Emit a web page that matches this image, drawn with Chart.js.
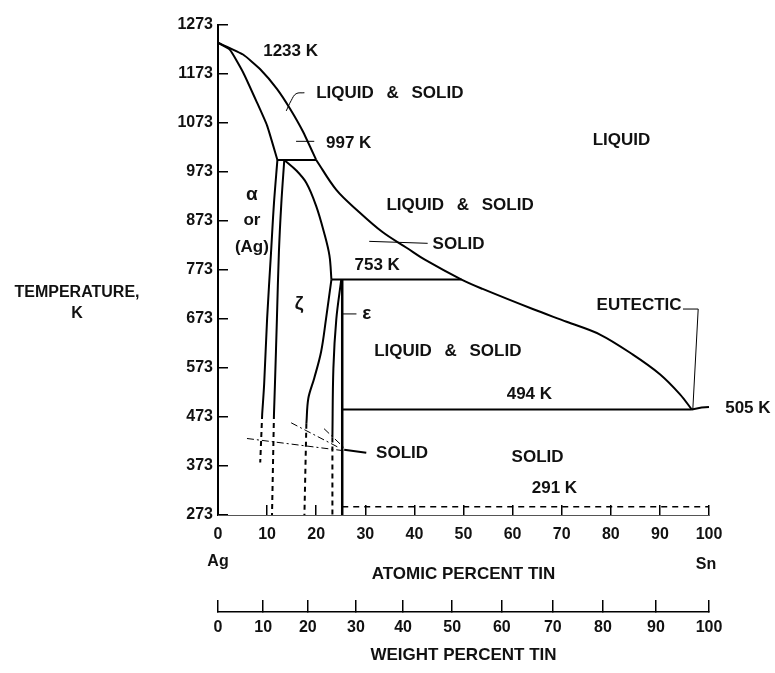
<!DOCTYPE html>
<html>
<head>
<meta charset="utf-8">
<title>Silver - tin phase diagram</title>
<script src="https://cdn.jsdelivr.net/npm/chart.js@4.4.1/dist/chart.umd.min.js"></script>
<style>
  html, body { margin: 0; padding: 0; background: #fff; }
  #wrap { width: 775px; height: 673px; }
</style>
</head>
<body>
<div id="wrap"><canvas id="phaseChart" width="775" height="673"></canvas></div>
<script>
// axis ticks
const tempTicks = [273, 373, 473, 573, 673, 773, 873, 973, 1073, 1173, 1273];
const atomicTicks = [0, 10, 20, 30, 40, 50, 60, 70, 80, 90, 100];
const weightLabels = [0, 10, 20, 30, 40, 50, 60, 70, 80, 90, 100];
// where each weight percent sits on the atomic percent scale
const weightAtAtomic = [0, 9.2, 18.3, 28.1, 37.7, 47.7, 57.8, 68.2, 78.4, 89.2, 100];

// phase boundaries, x = atomic percent tin, T = kelvin
const liquidusTopX = [0, 5.1, 8.6, 12.0, 14.7, 17.3, 20.0];
const liquidusTopT = [1236, 1212, 1182, 1142, 1101, 1055, 997];
const liquidusLowX = [20.0, 24.1, 28.5, 33.5, 38.4, 42.4, 49.6, 53.9, 64.1, 71.0, 77.8, 84.5, 90.0, 94.1, 96.5];
const liquidusLowT = [997, 936, 893, 850, 818, 792, 753, 734, 693, 667, 641, 600, 560, 519, 488];
const tinEndX = [96.5, 98.5, 100];
const tinEndT = [488, 492, 493];

const alphaSolidusX = [0, 2.4, 5.1, 7.9, 10.0, 12.1];
const alphaSolidusT = [1236, 1222, 1176, 1115, 1067, 997];
const peritecticX = [12.1, 20.0];
const peritecticT = [997, 997];

const alphaSolvusX = [12.1, 11.4, 10.8, 10.0, 9.4, 9.0];
const alphaSolvusT = [997, 909, 808, 673, 540, 479];
const alphaSolvusDashX = [9.0, 8.6];
const alphaSolvusDashT = [479, 380];

const zetaLeftX = [13.5, 12.9, 12.4, 12.0, 11.6, 11.4];
const zetaLeftT = [997, 909, 808, 673, 540, 479];
const zetaLeftDashX = [11.4, 11.0];
const zetaLeftDashT = [479, 273];

const zetaTopX = [13.5, 15.9, 18.0, 20.0, 21.6, 22.7, 23.1];
const zetaTopT = [997, 976, 950, 903, 849, 802, 753];
const line753X = [23.1, 49.6];
const line753T = [753, 753];

const zetaRightX = [23.1, 22.0, 21.0, 19.6, 18.4, 18.0];
const zetaRightT = [753, 673, 606, 552, 511, 459];
const zetaRightDashX = [18.0, 17.6];
const zetaRightDashT = [459, 273];

const epsLeftX = [25.1, 24.1, 23.5, 23.3];
const epsLeftT = [753, 673, 572, 431];
const epsLeftDashX = [23.3, 23.3];
const epsLeftDashT = [431, 273];
const epsRightX = [25.3, 25.3];
const epsRightT = [753, 273];

const eutecticLineX = [25.3, 96.5];
const eutecticLineT = [488, 488];
const roomTempX = [25.3, 100];
const roomTempT = [290, 290];

// leader lines for the labels
const leaderTopX = [17.6, 15.9, 14.9, 13.9];
const leaderTopT = [1134, 1132, 1118, 1097];
const tick997X = [15.9, 19.6];
const tick997T = [1035, 1035];
const leaderSolidMidX = [30.8, 42.7];
const leaderSolidMidT = [831, 827];
const leaderEpsX = [25.3, 28.2];
const leaderEpsT = [683, 683];
const leaderEutecticX = [94.7, 97.8, 96.7];
const leaderEutecticT = [693, 693, 488];
const dashDotAX = [5.9, 25.7];
const dashDotAT = [429, 404];
const dashDotBX = [14.9, 24.7];
const dashDotBT = [461, 410];
const dashDotCX = [21.6, 25.7];
const dashDotCT = [449, 410];
const leaderSolidLowX = [25.7, 30.2];
const leaderSolidLowT = [406, 400];

// text in the diagram: [text, x, T, align]
const regionLabels = [
    ['1233 K', 9.2, 1218, 'left'],
    ['LIQUID & SOLID', 20.0, 1132, 'left'],
    ['997 K', 22.0, 1031, 'left'],
    ['LIQUID', 76.3, 1037, 'left'],
    ['LIQUID & SOLID', 34.3, 905, 'left'],
    ['SOLID', 43.7, 825, 'left'],
    ['753 K', 27.8, 782, 'left'],
    ['LIQUID & SOLID', 31.8, 606, 'left'],
    ['494 K', 58.8, 519, 'left'],
    ['EUTECTIC', 77.1, 701, 'left'],
    ['505 K', 103.3, 491, 'left'],
    ['SOLID', 32.2, 398, 'left'],
    ['SOLID', 59.8, 390, 'left'],
    ['291 K', 63.9, 328, 'left'],
    ['α', 6.9, 925, 'center'],
    ['or', 6.9, 873, 'center'],
    ['(Ag)', 6.9, 818, 'center'],
    ['ζ', 16.5, 703, 'center'],
    ['ε', 29.4, 683, 'left']
];

const FONT = '"Liberation Sans", Arial, sans-serif';
const INK = '#111';

function line(xs, ts, extra) {
    return Object.assign({
        data: xs.map((x, i) => ({ x: x, y: ts[i] })),
        borderColor: '#000',
        backgroundColor: '#000',
        borderWidth: 2
    }, extra);
}

const dashed = { borderDash: [5, 4] };
const curve = { tension: 0.35 };
const soft = { tension: 0.15 };
const thin = { borderWidth: 1 };
const dashDot = { borderWidth: 1, borderDash: [7, 3, 2, 3] };

const datasets = [
    line(liquidusTopX, liquidusTopT, soft),
    line(liquidusLowX, liquidusLowT, curve),
    line(tinEndX, tinEndT, {}),
    line(alphaSolidusX, alphaSolidusT, soft),
    line(peritecticX, peritecticT, {}),
    line(alphaSolvusX, alphaSolvusT, curve),
    line(alphaSolvusDashX, alphaSolvusDashT, dashed),
    line(zetaLeftX, zetaLeftT, curve),
    line(zetaLeftDashX, zetaLeftDashT, dashed),
    line(zetaTopX, zetaTopT, curve),
    line(line753X, line753T, {}),
    line(zetaRightX, zetaRightT, curve),
    line(zetaRightDashX, zetaRightDashT, dashed),
    line(epsLeftX, epsLeftT, curve),
    line(epsLeftDashX, epsLeftDashT, dashed),
    line(epsRightX, epsRightT, { borderWidth: 2.5 }),
    line(eutecticLineX, eutecticLineT, {}),
    line(roomTempX, roomTempT, { borderWidth: 1.5, borderDash: [6, 5] }),
    line(leaderTopX, leaderTopT, Object.assign({ tension: 0.4 }, thin)),
    line(tick997X, tick997T, thin),
    line(leaderSolidMidX, leaderSolidMidT, thin),
    line(leaderEpsX, leaderEpsT, thin),
    line(leaderEutecticX, leaderEutecticT, thin),
    line(dashDotAX, dashDotAT, dashDot),
    line(dashDotBX, dashDotBT, dashDot),
    line(dashDotCX, dashDotCT, dashDot),
    line(leaderSolidLowX, leaderSolidLowT, { borderWidth: 2 })
];

const textPlugin = {
    id: 'phaseText',
    afterDraw(chart) {
        const ctx = chart.ctx;
        const xs = chart.scales.x;
        const ys = chart.scales.y;
        ctx.save();
        ctx.fillStyle = INK;
        ctx.textBaseline = 'middle';
        regionLabels.forEach(([text, x, t, align]) => {
            const greek = /[αζε]/.test(text);
            ctx.font = 'bold ' + (greek ? '19px ' : '17px ') + FONT;
            ctx.wordSpacing = text.indexOf('&') >= 0 ? '8px' : '0px';
            ctx.textAlign = align;
            ctx.fillText(text, xs.getPixelForValue(x), ys.getPixelForValue(t));
        });
        ctx.wordSpacing = '0px';
        ctx.font = 'bold 16px ' + FONT;
        ctx.textAlign = 'center';
        ctx.fillText('TEMPERATURE,', xs.left - 141, ys.getPixelForValue(727));
        ctx.fillText('K', xs.left - 141, ys.getPixelForValue(683));
        ctx.fillText('Ag', xs.getPixelForValue(0), xs.top + 47);
        ctx.fillText('Sn', xs.getPixelForValue(100) - 3, xs.top + 50);
        ctx.restore();
    }
};

const tickFont = { family: FONT, size: 16, weight: 'bold' };
const titleFont = { family: FONT, size: 17, weight: 'bold' };

new Chart(document.getElementById('phaseChart'), {
    type: 'scatter',
    data: { datasets: datasets },
    options: {
        responsive: false,
        animation: false,
        layout: { padding: { left: 158, right: 66, top: 20, bottom: 5 } },
        datasets: {
            scatter: { showLine: true, pointRadius: 0, fill: false, clip: false }
        },
        plugins: {
            legend: { display: false },
            tooltip: { enabled: false }
        },
        scales: {
            y: {
                type: 'linear',
                min: 273,
                max: 1273,
                afterBuildTicks: (axis) => { axis.ticks = tempTicks.map(v => ({ value: v })); },
                afterFit: (axis) => { axis.width = 60; },
                ticks: {
                    autoSkip: false,
                    padding: 15,
                    color: INK,
                    font: tickFont,
                    callback: (v) => String(v)
                },
                grid: { drawOnChartArea: false, tickLength: -10, color: '#000', lineWidth: 1.5 },
                border: { color: '#000', width: 2 }
            },
            x: {
                type: 'linear',
                position: 'bottom',
                weight: 0,
                min: 0,
                max: 100,
                afterBuildTicks: (axis) => { axis.ticks = atomicTicks.map(v => ({ value: v })); },
                afterFit: (axis) => { axis.height = 97; },
                ticks: {
                    autoSkip: false,
                    maxRotation: 0,
                    padding: 20,
                    color: INK,
                    font: tickFont,
                    callback: (v) => String(v)
                },
                grid: { drawOnChartArea: false, tickLength: -10, color: '#000', lineWidth: 1.5 },
                border: { color: '#555', width: 1 },
                title: {
                    display: true,
                    text: 'ATOMIC PERCENT TIN',
                    color: INK,
                    font: titleFont,
                    padding: { top: 0, bottom: 27 }
                }
            },
            x2: {
                type: 'linear',
                position: 'bottom',
                weight: 1,
                min: 0,
                max: 100,
                afterBuildTicks: (axis) => { axis.ticks = weightAtAtomic.map(v => ({ value: v })); },
                afterFit: (axis) => { axis.height = 56; },
                ticks: {
                    autoSkip: false,
                    maxRotation: 0,
                    padding: 18,
                    color: INK,
                    font: tickFont,
                    callback: (v, i) => String(weightLabels[i])
                },
                grid: { drawOnChartArea: false, tickLength: -12, color: '#000', lineWidth: 1.5 },
                border: { color: '#000', width: 1.5 },
                title: {
                    display: true,
                    text: 'WEIGHT PERCENT TIN',
                    color: INK,
                    font: titleFont,
                    padding: { top: 0, bottom: 2 }
                }
            }
        }
    },
    plugins: [textPlugin]
});
</script>
</body>
</html>
